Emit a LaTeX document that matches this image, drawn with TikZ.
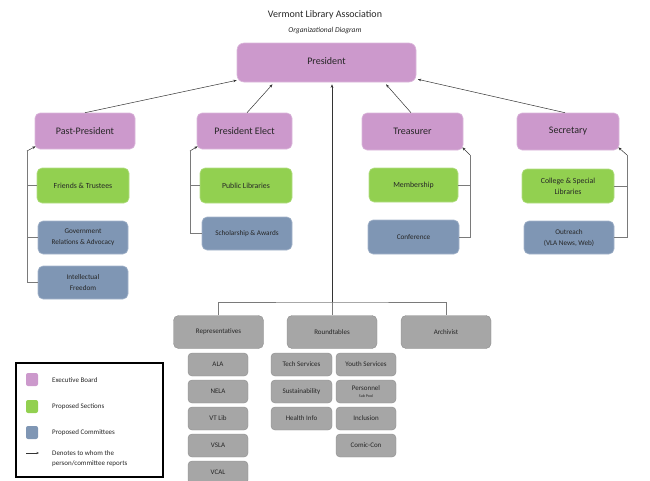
\documentclass[tikz,border=0pt]{standalone}
\usepackage{fontspec}
\setmainfont{Carlito}
\usetikzlibrary{arrows.meta,calc}
\definecolor{exec}{HTML}{CC99CC}
\definecolor{sect}{HTML}{92D050}
\definecolor{comm}{HTML}{7F96B4}
\definecolor{grey}{HTML}{A6A6A6}
\definecolor{txt}{HTML}{262626}
\definecolor{ln}{HTML}{7A7A7A}
\begin{document}
\begin{tikzpicture}[x=1pt,y=-1pt,
  base/.style={rounded corners=5pt,inner sep=0pt,align=center,text=txt},
  execbox/.style={base,fill=exec,draw=exec!70!white,line width=0.6pt,font=\fontsize{10}{12}\selectfont},
  sectbox/.style={base,fill=sect,draw=sect!70!white,line width=0.6pt,font=\fontsize{7.8}{11}\selectfont},
  commbox/.style={base,fill=comm,draw=comm!70!white,line width=0.6pt,font=\fontsize{7.2}{11}\selectfont},
  greybox/.style={base,fill=grey,draw=grey!85!black,line width=0.4pt,font=\fontsize{7}{9}\selectfont},
  smallbox/.style={greybox,rounded corners=4pt,minimum width=60,minimum height=23},
  rep/.style={-{Stealth[length=3.5pt,width=2.6pt]},line width=0.5pt,draw=black!80},
  tree/.style={line width=0.7pt,draw=ln},
  legtxt/.style={anchor=west,inner sep=0pt,text=txt,font=\fontsize{7}{10}\selectfont,align=left}
]
\useasboundingbox (0,0) rectangle (650,480);

% titles
\node[text=txt,font=\fontsize{10}{12}\selectfont] (title) at (325,15) {Vermont Library Association};
\node[text=txt,font=\fontsize{7.5}{9}\itshape] (subtitle) at (325,31) {Organizational Diagram};

% executive board
\node[execbox,rounded corners=7pt,minimum width=179,minimum height=39] (pres) at (326.5,62.5) {\raisebox{3.5pt}{President}};
\node[execbox,minimum width=100,minimum height=36] (pp) at (85,131) {Past-President};
\node[execbox,minimum width=95,minimum height=36] (pe) at (244.5,131) {President Elect};
\node[execbox,minimum width=101,minimum height=37] (tr) at (412.5,131.5) {Treasurer};
\node[execbox,minimum width=102,minimum height=37] (sec) at (568,131.5) {Secretary};

% sections and committees
\node[sectbox,minimum width=92,minimum height=35] (ft) at (83,185.5) {Friends \& Trustees};
\node[commbox,minimum width=90,minimum height=33] (gov) at (83,237.5) {Government\\Relations \& Advocacy};
\node[commbox,minimum width=90,minimum height=33] (intf) at (83,282.5) {Intellectual\\Freedom};
\node[sectbox,minimum width=92,minimum height=35] (pl) at (246,185.5) {Public Libraries};
\node[commbox,minimum width=90,minimum height=33] (sch) at (247,233.5) {Scholarship \& Awards};
\node[sectbox,minimum width=89,minimum height=34] (mem) at (413.5,185) {Membership};
\node[commbox,minimum width=91,minimum height=34] (conf) at (413.5,237) {Conference};
\node[sectbox,minimum width=92,minimum height=34] (csl) at (568,186) {College \& Special\\Libraries};
\node[commbox,minimum width=90,minimum height=33] (out) at (569,237.5) {Outreach\\(VLA News, Web)};

% reports to president
\draw[rep] (pp.north) -- ([yshift=2pt]pres.south west);
\draw[rep] ([xshift=2.5pt]pe.north) -- ([xshift=-54pt,yshift=-2pt]pres.south);
\draw[rep] ([xshift=-1.5pt]tr.north) -- ([xshift=59.5pt,yshift=-2pt]pres.south);
\draw[rep] ([xshift=-3pt]sec.north) -- ([xshift=1.5pt,yshift=3pt]pres.south east);

% brackets
\coordinate (ppA) at (27,151);
\draw[rep] (ppA) -- ([shift={(1pt,3pt)}]pp.south west);
\draw[tree] (ppA) |- (intf.west);
\draw[tree] (ppA |- ft.west) -- (ft.west);
\draw[tree] (ppA |- gov.west) -- (gov.west);

\coordinate (peA) at (190,151);
\draw[rep] (peA) -- ([shift={(1pt,3pt)}]pe.south west);
\draw[tree] (peA) |- (sch.west);
\draw[tree] (peA |- pl.west) -- (pl.west);

\coordinate (trA) at (470,155);
\draw[rep] (trA) -- ([shift={(-1pt,3pt)}]tr.south east);
\draw[tree] (trA) |- (conf.east);
\draw[tree] (trA |- mem.east) -- (mem.east);

\coordinate (secA) at (627,155);
\draw[rep] (secA) -- ([shift={(-1pt,3pt)}]sec.south east);
\draw[tree] (secA) |- (out.east);
\draw[tree] (secA |- csl.east) -- (csl.east);

% lower tree
\node[greybox,minimum width=90,minimum height=33] (reps) at (218.5,332) {Representatives};
\node[greybox,minimum width=90,minimum height=33] (rt) at (332,332) {Roundtables};
\node[greybox,minimum width=90,minimum height=33] (arch) at (446,332) {Archivist};
\coordinate (hub) at (332,302);
\draw[rep] (hub) -- ([xshift=5.5pt,yshift=-2pt]pres.south);
\draw[tree] (reps.north) |- (hub) -| (arch.north);
\draw[tree] (hub) -- (rt.north);

\node[smallbox] (ala) at (218,364.5) {ALA};
\node[smallbox] (nela) at (218,391.5) {NELA};
\node[smallbox] (vtlib) at (218,418.5) {VT Lib};
\node[smallbox] (vsla) at (218,445.5) {VSLA};
\node[smallbox] (vcal) at (218,472.5) {VCAL};
\node[smallbox,minimum width=61] (tech) at (301.5,364.5) {Tech Services};
\node[smallbox,minimum width=61] (sust) at (301.5,391.5) {Sustainability};
\node[smallbox,minimum width=61] (health) at (301.5,418.5) {Health Info};
\node[smallbox] (youth) at (366,364.5) {Youth Services};
\node[smallbox] (pers) at (366,391.5) {Personnel\\[-2pt]{\fontsize{4}{5}\selectfont Sub Pool}};
\node[smallbox] (incl) at (366,418.5) {Inclusion};
\node[smallbox] (comic) at (366,445.5) {Comic-Con};

% legend
\node[draw=black,line width=1.1pt,minimum width=147,minimum height=114,inner sep=0pt] (leg) at (89.5,420) {};
\node[fill=exec,rounded corners=2pt,minimum width=12,minimum height=13,inner sep=0pt] (sw1) at (32,379.5) {};
\node[fill=sect,rounded corners=2pt,minimum width=12,minimum height=13,inner sep=0pt] (sw2) at (32,406.5) {};
\node[fill=comm,rounded corners=2pt,minimum width=12,minimum height=13,inner sep=0pt] (sw3) at (32,432.5) {};
\node[legtxt] (l1) at (52,380) {Executive Board};
\node[legtxt] (l2) at (52,407) {Proposed Sections};
\node[legtxt] (l3) at (52,433) {Proposed Committees};
\node[legtxt] (l4) at (52,458.5) {Denotes to whom the\\person/committee reports};
\coordinate (la) at (26,453);
\coordinate (lb) at (39,453);
\draw[rep,-{Stealth[length=2.5pt,width=2pt]}] (la) -- (lb);
\end{tikzpicture}
\end{document}
